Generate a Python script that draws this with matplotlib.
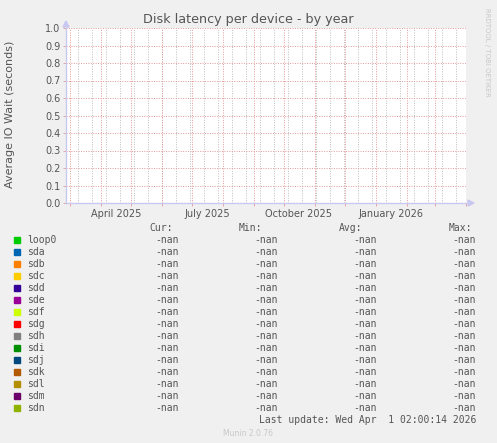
import numpy as np
import matplotlib
matplotlib.use("Agg")
import matplotlib.pyplot as plt
from datetime import datetime, timedelta

# ---- data ----
devices = ["loop0", "sda", "sdb", "sdc", "sdd", "sde", "sdf", "sdg", "sdh",
           "sdi", "sdj", "sdk", "sdl", "sdm", "sdn"]
colors = ["#00CC00", "#0066B3", "#FF8000", "#FFCC00", "#330099", "#990099",
          "#CCFF00", "#FF0000", "#808080", "#008F00", "#00487D", "#B35A00",
          "#B38F00", "#6B006B", "#8FB300"]
cur_vals = [np.nan] * len(devices)
min_vals = [np.nan] * len(devices)
avg_vals = [np.nan] * len(devices)
max_vals = [np.nan] * len(devices)
stat_headers = ["Cur:", "Min:", "Avg:", "Max:"]
y_ticks = [0.0, 0.1, 0.2, 0.3, 0.4, 0.5, 0.6, 0.7, 0.8, 0.9, 1.0]
x_label_months = [(2025, 4), (2025, 7), (2025, 10), (2026, 1)]
end_time = datetime(2026, 4, 1, 2, 0, 14)
start_time = end_time - timedelta(days=400)
title = "Disk latency per device - by year"
ylabel = "Average IO Wait (seconds)"
last_update = "Last update: Wed Apr  1 02:00:14 2026"
footer = "Munin 2.0.76"
watermark = "RRDTOOL / TOBI OETIKER"

W, H = 497, 443
fig = plt.figure(figsize=(W / 100, H / 100), dpi=100)
fig.patch.set_facecolor("#F0F0F0")

def fx(px):
    return px / W

def fy(py):
    return 1 - py / H

L, R, T, B = 66, 466, 28, 203
ax = fig.add_axes([fx(L), fy(B), (R - L) / W, (B - T) / H])
ax.set_facecolor("white")

# series (all NaN)
times = [start_time, end_time]
for dev, col, v in zip(devices, colors, cur_vals):
    ax.plot(times, [v, v], color=col, lw=1)

ax.set_xlim(start_time, end_time)
ax.set_ylim(0, 1.0)

# grid: minor every 2 weeks, major each month
minor_c = "#BEBEBE"
major_c = "#E49898"
d = datetime(2025, 3, 9)
while d < end_time:
    if d > start_time:
        ax.axvline(d, color=minor_c, lw=0.7, ls=(0, (1, 1.5)), zorder=1)
    d += timedelta(days=14)
month_starts = []
y, m = 2025, 3
while True:
    dt = datetime(y, m, 1)
    if dt > end_time:
        break
    month_starts.append(dt)
    m += 1
    if m > 12:
        m = 1
        y += 1
for dt in month_starts:
    ax.axvline(dt, color=major_c, lw=0.7, ls=(0, (1, 1.5)), zorder=2)
for yv in y_ticks[1:]:
    ax.axhline(yv, color=major_c, lw=0.7, ls=(0, (1, 1.5)), zorder=2)

for s in ["top", "right"]:
    ax.spines[s].set_visible(False)
for s in ["left", "bottom"]:
    ax.spines[s].set_color("#C8C8F0")
    ax.spines[s].set_linewidth(1.0)
    ax.spines[s].set_zorder(3)

# arrows
fig.patches.append(plt.Polygon([[fx(L - 3), fy(27)], [fx(L + 3), fy(27)], [fx(L), fy(21)]],
                               closed=True, color="#C8C8F0", transform=fig.transFigure))
fig.patches.append(plt.Polygon([[fx(468), fy(B - 3)], [fx(468), fy(B + 3)], [fx(474), fy(B)]],
                               closed=True, color="#C8C8F0", transform=fig.transFigure))

# ticks
ax.set_yticks(y_ticks)
ax.set_yticklabels([f"{v:.1f}" for v in y_ticks])
ax.tick_params(axis="y", length=2, width=0.6, color=major_c, labelsize=7,
               labelcolor="#555555", pad=2)
ax.set_xticks(month_starts)
ax.set_xticklabels([])
ax.tick_params(axis="x", which="major", length=2, width=0.6, color=major_c)
mids = [datetime(yy, mm, 16) for yy, mm in x_label_months]
ax.set_xticks(mids, minor=True)
ax.set_xticklabels([dt.strftime("%B %Y") for dt in mids], minor=True)
ax.tick_params(axis="x", which="minor", length=0, labelsize=7, labelcolor="#555555", pad=4)

# texts
fig.text(fx(248), fy(19), title, ha="center", va="center", fontsize=9.2, color="#555555")
fig.text(fx(10), fy(114), ylabel, ha="center", va="center", rotation=90, fontsize=8, color="#555555")
fig.text(fx(487), fy(52), watermark, ha="center", va="center", rotation=270, fontsize=5,
         color="#C8C8C8")

mono = "DejaVu Sans Mono"
fs = 7
tc = "#555555"
hdr_x = [179, 278, 377, 476]
fig.text(fx(173), fy(228), stat_headers[0], ha="right", va="center", family=mono, fontsize=fs, color=tc)
fig.text(fx(262), fy(228), stat_headers[1], ha="right", va="center", family=mono, fontsize=fs, color=tc)
fig.text(fx(362), fy(228), stat_headers[2], ha="right", va="center", family=mono, fontsize=fs, color=tc)
fig.text(fx(472), fy(228), stat_headers[3], ha="right", va="center", family=mono, fontsize=fs, color=tc)

def fmt(v):
    return "-nan" if np.isnan(v) else f"{v:.2f}"

for i, (dev, col) in enumerate(zip(devices, colors)):
    yy = 240 + 12 * i
    fig.patches.append(plt.Rectangle((fx(14), fy(yy + 3)), 6 / W, 6 / H, color=col,
                                     transform=fig.transFigure))
    fig.text(fx(27), fy(yy), dev, ha="left", va="center", family=mono, fontsize=fs, color=tc)
    for xr, arr in zip(hdr_x, [cur_vals, min_vals, avg_vals, max_vals]):
        fig.text(fx(xr), fy(yy), fmt(arr[i]), ha="right", va="center", family=mono,
                 fontsize=fs, color=tc)

fig.text(fx(476), fy(420), last_update, ha="right", va="center", family=mono, fontsize=fs, color=tc)
fig.text(fx(248), fy(433), footer, ha="center", va="center", fontsize=5.5, color="#C8C8C8")

fig.savefig("out.png", dpi=100, facecolor=fig.get_facecolor())
